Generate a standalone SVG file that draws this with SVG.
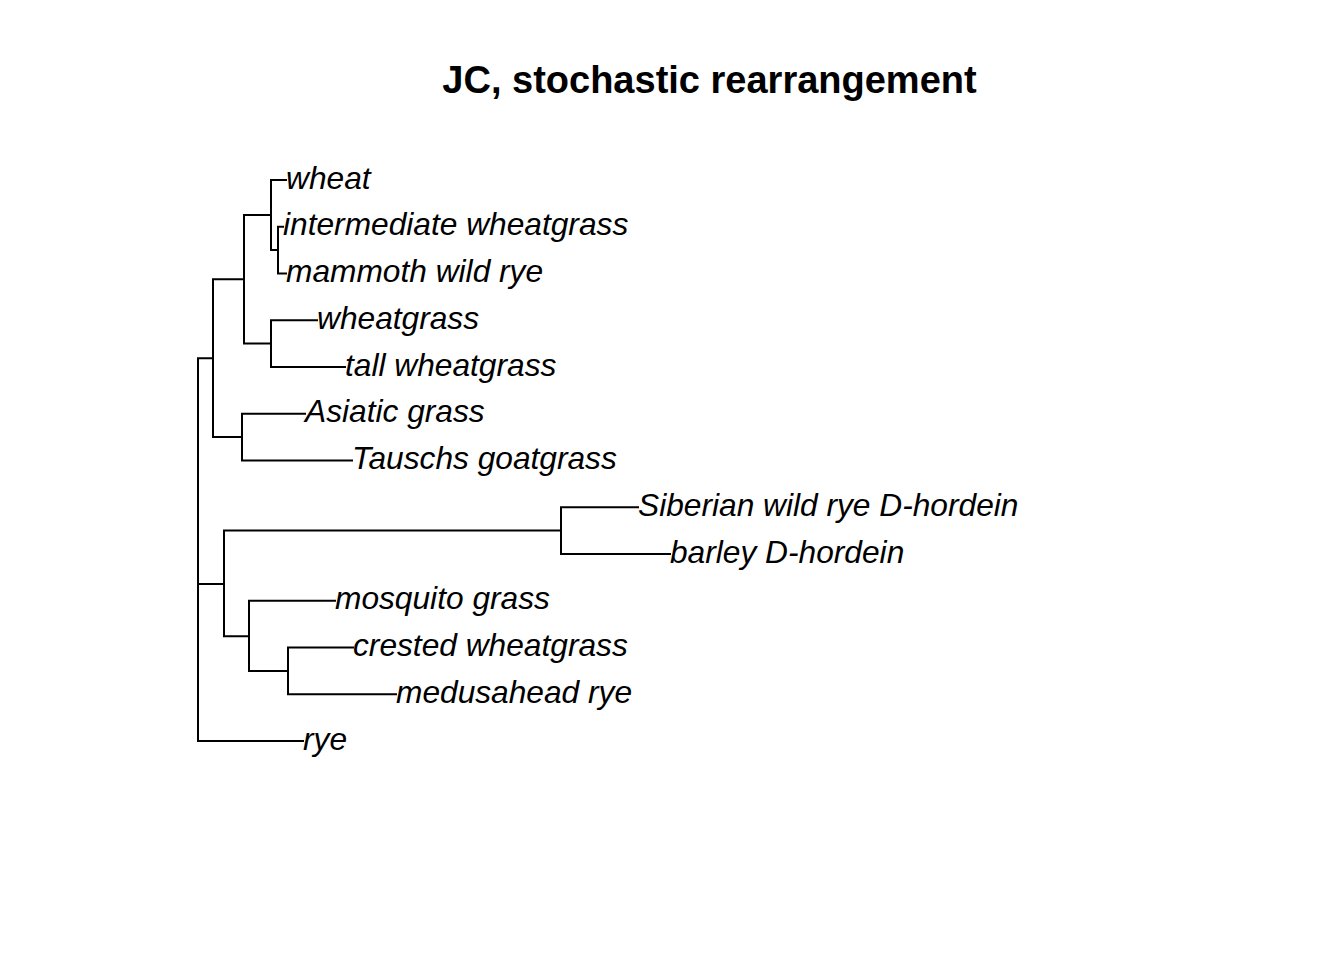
<svg xmlns="http://www.w3.org/2000/svg" width="1344" height="960" viewBox="0 0 1344 960">
<style>
.e{fill:none;stroke:#000;stroke-width:2;stroke-linecap:square}
.t{font-family:"Liberation Sans",Arial,sans-serif;font-style:italic;font-size:31.7px;fill:#000}
.h{font-family:"Liberation Sans",Arial,sans-serif;font-weight:bold;font-size:38px;fill:#000}
</style>
<rect width="1344" height="960" fill="#fff"/>
<text class="h" x="709.5" y="93" text-anchor="middle">JC, stochastic rearrangement</text>
<g id="connectors">
<path class="e" d="M198,358.2V741M198,358.2H213M198,584H224M198,741H303"/>
<path class="e" d="M213,279.3V437.1M213,279.3H244M213,437.1H242"/>
<path class="e" d="M244,215V343.6M244,215H271M244,343.6H271"/>
<path class="e" d="M271,180V250.1M271,180H286M271,250.1H278"/>
<path class="e" d="M278,226.75V273.5M278,226.75H283M278,273.5H286"/>
<path class="e" d="M271,320.25V367M271,320.25H317M271,367H345"/>
<path class="e" d="M242,413.75V460.5M242,413.75H305M242,460.5H352"/>
<path class="e" d="M224,530.6V636.3M224,530.6H561M224,636.3H249"/>
<path class="e" d="M561,507.25V554M561,507.25H638M561,554H670"/>
<path class="e" d="M249,600.75V670.9M249,600.75H335M249,670.9H288"/>
<path class="e" d="M288,647.5V694.25M288,647.5H353M288,694.25H396"/>
</g>
<g id="wheat"><text class="t" x="286" y="189">wheat</text></g>
<g id="intermediate"><text class="t" x="283" y="235.25">intermediate wheatgrass</text></g>
<g id="mammoth"><text class="t" x="286" y="282">mammoth wild rye</text></g>
<g id="wheatgrass"><text class="t" x="317" y="328.75">wheatgrass</text></g>
<g id="tall"><text class="t" x="345" y="375.5">tall wheatgrass</text></g>
<g id="asiatic"><text class="t" x="305" y="422.25">Asiatic grass</text></g>
<g id="tauschs"><text class="t" x="352" y="469">Tauschs goatgrass</text></g>
<g id="siberian"><text class="t" x="638" y="515.75">Siberian wild rye D-hordein</text></g>
<g id="barley"><text class="t" x="670" y="562.5">barley D-hordein</text></g>
<g id="mosquito"><text class="t" x="335" y="609.25">mosquito grass</text></g>
<g id="crested"><text class="t" x="353" y="656">crested wheatgrass</text></g>
<g id="medusahead"><text class="t" x="396" y="702.75">medusahead rye</text></g>
<g id="rye"><text class="t" x="303" y="749.5">rye</text></g>
</svg>
